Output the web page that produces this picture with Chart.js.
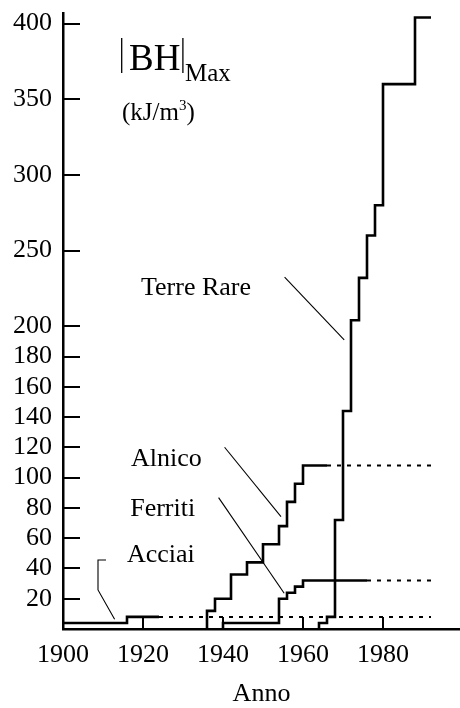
<!DOCTYPE html>
<html>
<head>
<meta charset="utf-8">
<script src="https://cdn.jsdelivr.net/npm/chart.js@4.4.0/dist/chart.umd.min.js"></script>
<style>
  html, body { margin: 0; padding: 0; background: #fff; }
</style>
</head>
<body>
<canvas id="bhChart" width="460" height="708"></canvas>
<script>
// tick labels
const xTicks = [1900, 1920, 1940, 1960, 1980];
const yTicks = [20, 40, 60, 80, 100, 120, 140, 160, 180, 200, 250, 300, 350, 400];

// step series: year where a new value starts, and that value
const acciaiYears = [1900, 1916, 1924];
const acciaiValues = [4, 8, 8];
const acciaiNextYears = [1924, 1992];
const acciaiNextValues = [8, 8];

const alnicoYears = [1936, 1936, 1938, 1942, 1946, 1950, 1954, 1956, 1958, 1960, 1966];
const alnicoValues = [0, 12, 20, 36, 44, 56, 68, 84, 96, 108, 108];
const alnicoNextYears = [1966, 1992];
const alnicoNextValues = [108, 108];

const ferritiYears = [1940, 1940, 1954, 1956, 1958, 1960, 1976];
const ferritiValues = [0, 4, 20, 24, 28, 32, 32];
const ferritiNextYears = [1976, 1992];
const ferritiNextValues = [32, 32];

const terreRareYears = [1964, 1964, 1966, 1968, 1970, 1972, 1974, 1976, 1978, 1980, 1988, 1992];
const terreRareValues = [0, 4, 8, 72, 144, 204, 232, 260, 280, 360, 404, 404];

// leader lines from the names to the curves (in chart units)
const acciaiLeaderYears = [1910.75, 1908.75, 1908.75, 1912.9];
const acciaiLeaderValues = [45.6, 45.6, 25.8, 6.4];
const alnicoLeaderYears = [1940.4, 1954.5];
const alnicoLeaderValues = [120.1, 74.2];
const ferritiLeaderYears = [1938.9, 1955.3];
const ferritiLeaderValues = [86.8, 23.6];
const terreLeaderYears = [1955.4, 1970.3];
const terreLeaderValues = [232.5, 191.1];

const seriesNames = ['Terre Rare', 'Alnico', 'Ferriti', 'Acciai'];

const FONT = '"Liberation Serif", "Times New Roman", serif';

function pts(xs, ys) {
    return xs.map((x, i) => ({ x: x, y: ys[i] }));
}

function stepLine(label, xs, ys) {
    return { label: label, data: pts(xs, ys), stepped: true, borderColor: '#000', borderWidth: 2.6, pointRadius: 0, fill: false };
}
function dotLine(label, xs, ys) {
    return { label: label, data: pts(xs, ys), borderColor: '#000', borderWidth: 2, borderDash: [4, 6], pointRadius: 0, fill: false };
}
function leader(label, xs, ys) {
    return { label: label, data: pts(xs, ys), borderColor: '#000', borderWidth: 1.1, pointRadius: 0, fill: false, tension: 0 };
}

// where the names sit (left edge, baseline) in chart units
const notePlaces = [
    { x: 1919.5, y: 220.8 },
    { x: 1917.0, y: 107.8 },
    { x: 1916.8, y: 74.9 },
    { x: 1916.0, y: 44.5 }
];

const decor = {
    id: 'decor',
    afterDraw(chart) {
        const { ctx, chartArea: a, scales: { x, y } } = chart;
        ctx.save();
        ctx.strokeStyle = '#000';
        ctx.fillStyle = '#000';

        // inward tick marks
        ctx.lineWidth = 2;
        ctx.beginPath();
        yTicks.forEach(v => {
            const py = Math.round(y.getPixelForValue(v));
            ctx.moveTo(a.left, py);
            ctx.lineTo(a.left + 17, py);
        });
        xTicks.slice(1).forEach(v => {
            const px = Math.round(x.getPixelForValue(v));
            ctx.moveTo(px, a.bottom);
            ctx.lineTo(px, a.bottom - 12);
        });
        ctx.stroke();

        // series names
        ctx.font = '26px ' + FONT;
        ctx.textBaseline = 'alphabetic';
        ctx.textAlign = 'left';
        seriesNames.forEach((n, i) => {
            ctx.fillText(n, x.getPixelForValue(notePlaces[i].x), y.getPixelForValue(notePlaces[i].y));
        });

        // |BH|Max
        ctx.font = '37px ' + FONT;
        const bhLeft = 129;
        ctx.fillText('BH', bhLeft, 70);
        const bhW = ctx.measureText('BH').width;
        ctx.lineWidth = 1.3;
        ctx.beginPath();
        ctx.moveTo(121.7, 38); ctx.lineTo(121.7, 73);
        ctx.moveTo(bhLeft + bhW + 2.5, 38); ctx.lineTo(bhLeft + bhW + 2.5, 73);
        ctx.stroke();
        ctx.font = '25px ' + FONT;
        ctx.fillText('Max', bhLeft + bhW + 4.5, 81);

        // (kJ/m3)
        ctx.font = '25px ' + FONT;
        let px = 122;
        ctx.fillText('(kJ/m', px, 120);
        px += ctx.measureText('(kJ/m').width;
        ctx.font = '15px ' + FONT;
        ctx.fillText('3', px, 110);
        px += ctx.measureText('3').width;
        ctx.font = '25px ' + FONT;
        ctx.fillText(')', px, 120);

        ctx.restore();
    }
};

new Chart(document.getElementById('bhChart'), {
    type: 'line',
    data: {
        datasets: [
            stepLine('Acciai', acciaiYears, acciaiValues),
            dotLine('Acciai dopo', acciaiNextYears, acciaiNextValues),
            stepLine('Alnico', alnicoYears, alnicoValues),
            dotLine('Alnico dopo', alnicoNextYears, alnicoNextValues),
            stepLine('Ferriti', ferritiYears, ferritiValues),
            dotLine('Ferriti dopo', ferritiNextYears, ferritiNextValues),
            stepLine('Terre Rare', terreRareYears, terreRareValues),
            leader('Acciai nota', acciaiLeaderYears, acciaiLeaderValues),
            leader('Alnico nota', alnicoLeaderYears, alnicoLeaderValues),
            leader('Ferriti nota', ferritiLeaderYears, ferritiLeaderValues),
            leader('Terre nota', terreLeaderYears, terreLeaderValues)
        ]
    },
    options: {
        responsive: false,
        animation: false,
        devicePixelRatio: 1,
        layout: { padding: { top: 13, left: 0, right: 0, bottom: 0 } },
        plugins: { legend: { display: false }, tooltip: { enabled: false } },
        scales: {
            x: {
                type: 'linear',
                min: 1900,
                max: 1999.25,
                afterBuildTicks: s => { s.ticks = xTicks.map(v => ({ value: v })); },
                afterFit: s => { s.height = 79; s.paddingLeft = 0; s.paddingRight = 0; },
                ticks: {
                    autoSkip: false, maxRotation: 0, padding: 11, color: '#000',
                    font: { family: FONT, size: 26 },
                    callback: v => String(v)
                },
                grid: { display: false, drawTicks: false },
                border: { display: true, color: '#000', width: 2.5 },
                title: { display: true, text: 'Anno', color: '#000', padding: 0, font: { family: FONT, size: 26, lineHeight: 1.1 } }
            },
            y: {
                type: 'linear',
                min: 0,
                max: 407,
                afterBuildTicks: s => { s.ticks = yTicks.map(v => ({ value: v })); },
                afterFit: s => { s.width = 63; s.paddingTop = 0; s.paddingBottom = 0; },
                ticks: {
                    autoSkip: false, padding: 11, color: '#000',
                    font: { family: FONT, size: 26 },
                    callback: v => String(v)
                },
                grid: { display: false, drawTicks: false },
                border: { display: true, color: '#000', width: 2.5 }
            }
        }
    },
    plugins: [decor]
});
</script>
</body>
</html>
